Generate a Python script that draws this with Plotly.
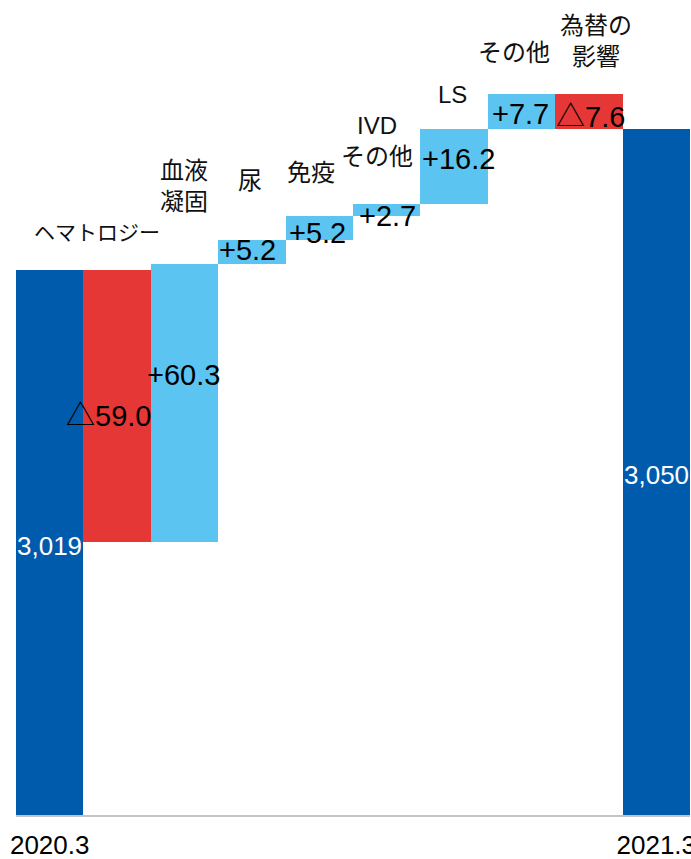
import plotly.graph_objects as go

# Revenue bridge, 2020.3 -> 2021.3 (億円)
categories = ["2020.3", "ヘマトロジー", "血液凝固", "尿", "免疫",
              "IVDその他", "LS", "その他", "為替の影響", "2021.3"]
values = [3019, -59.0, 60.3, 5.2, 5.2, 2.7, 16.2, 7.7, -7.6, None]
measures = ["absolute", "relative", "relative", "relative", "relative",
            "relative", "relative", "relative", "relative", "total"]

# Headings written above the bars (line breaks as drawn)
headings = ["", "ヘマトロジー", "血液<br>凝固", "尿", "免疫",
            "IVD<br>その他", "LS", "その他", "為替の<br>影響", ""]

# Placement of the headings and value labels (x offset in bar units, y in data units)
heading_pos = [None, (0.70, 3027.2), (1.99, 3037.2), (2.97, 3038.5), (3.88, 3040.1),
               (4.86, 3047.0), (5.97, 3057.2), (6.89, 3066.2), (8.11, 3068.6), None]
value_pos = [(0.0, 2959.2), (0.865, 2988.0), (1.985, 2996.3), (2.93, 3023.4),
             (3.98, 3027.1), (5.01, 3030.8), (6.07, 3043.2), (6.99, 3052.9),
             (8.03, 3052.9), (9.01, 2974.5)]

DARK = "#005BAC"
RED = "#E53836"
LIGHT = "#5BC4F1"
FONT = "Liberation Sans, Arial, Noto Sans CJK JP, sans-serif"
CJK = "Noto Sans CJK JP, sans-serif"

# running total for the closing bar's label
closing = round(sum(v for v in values if v is not None), 1)
label_values = [v if v is not None else closing for v in values]


def fmt(v, m):
    if m != "relative":
        return f"{v:,.0f}"
    if v < 0:
        return f"<span style=\"font-family:{CJK}\">△</span>{abs(v):.1f}"
    return f"+{v:.1f}"


fig = go.Figure(go.Waterfall(
    x=categories,
    y=[v if v is not None else 0 for v in values],
    measure=measures,
    connector=dict(visible=False),
    increasing=dict(marker=dict(color=LIGHT, line=dict(width=0))),
    decreasing=dict(marker=dict(color=RED, line=dict(width=0))),
    totals=dict(marker=dict(color=DARK, line=dict(width=0))),
    textposition="none",
    hoverinfo="x+y",
))

annotations = []
for (vx, vy), v, m in zip(value_pos, label_values, measures):
    total_bar = m != "relative"
    annotations.append(dict(
        x=vx, y=vy, xref="x", yref="y", text=fmt(v, m), showarrow=False,
        xanchor="center", yanchor="middle",
        font=dict(family=FONT, size=26 if total_bar else 29,
                  color="white" if total_bar else "black"),
    ))
for pos, h in zip(heading_pos, headings):
    if pos is None:
        continue
    annotations.append(dict(
        x=pos[0], y=pos[1], xref="x", yref="y", text=h, showarrow=False,
        xanchor="center", yanchor="middle",
        font=dict(family=FONT, size=21 if h == "ヘマトロジー" else 24,
                  color="#111111"),
    ))

fig.update_layout(
    template="none",
    width=691, height=859,
    margin=dict(l=16, r=1, t=0, b=44),
    paper_bgcolor="white", plot_bgcolor="white",
    waterfallgap=0,
    showlegend=False,
    annotations=annotations,
    xaxis=dict(
        type="category",
        range=[-0.5, 9.5],
        tickvals=["2020.3", "2021.3"],
        ticktext=["2020.3", "2021.3"],
        tickfont=dict(family=FONT, size=26, color="black"),
        ticklabelstandoff=6,
        showgrid=False, zeroline=False,
        showline=True, linecolor="#C4C4C4", linewidth=2,
        ticks="", automargin=False,
    ),
    yaxis=dict(
        range=[2900.8, 3077.6],
        visible=False, showgrid=False, zeroline=False, automargin=False,
    ),
)

fig.write_html("out.html")
